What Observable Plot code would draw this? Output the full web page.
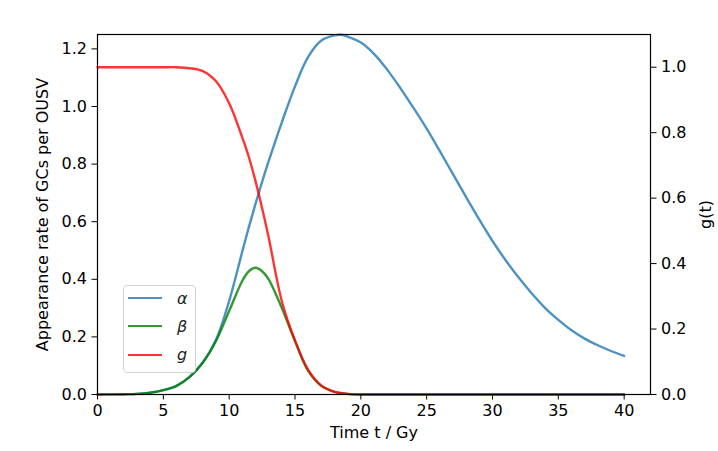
<!DOCTYPE html>
<html>
<head>
<meta charset="utf-8">
<script src="https://cdn.jsdelivr.net/npm/d3@7"></script>
<script src="https://cdn.jsdelivr.net/npm/@observablehq/plot@0.6"></script>
<style>
  html, body { margin: 0; padding: 0; background: white; }
  #wrap { position: relative; width: 718px; height: 451px; }
  #legend { position: absolute; left: 123px; top: 285px; width: 73px; height: 88px;
    border: 1px solid #d3d3d3; border-radius: 4px; background: rgba(255,255,255,0.8); box-sizing: border-box; }
  .row { position: absolute; left: 4px; height: 20px; display: flex; align-items: center; }
  .sw { width: 34px; height: 0; border-top: 2.5px solid; margin-right: 15px; }
  .lab { font-family: "DejaVu Sans"; font-style: italic; font-size: 16px; color: #222; }
</style>
</head>
<body>
<div id="wrap"></div>
<script>
// time axis (Gy)
const t = [0,1,2,3,4,5,6,7,8,9,10,11,11.5,12,12.5,13,14,15,16,17,18,18.5,19,20,21,22,23,24,25,26,27,28,29,30,31,32,33,34,35,36,37,38,39,40];
// alpha (left axis)
const alpha = [0,0.0005,0.001,0.002,0.006,0.015,0.03,0.061,0.111,0.19,0.325,0.497,0.582,0.662,0.738,0.81,0.945,1.07,1.172,1.229,1.247,1.249,1.243,1.222,1.183,1.128,1.064,0.995,0.923,0.845,0.765,0.685,0.607,0.533,0.466,0.405,0.35,0.30,0.259,0.223,0.194,0.171,0.151,0.134];
// beta (left axis)
const beta = [0,0.0005,0.001,0.002,0.006,0.015,0.03,0.061,0.111,0.186,0.29,0.395,0.428,0.44,0.428,0.40,0.30,0.186,0.082,0.03,0.009,0.005,0.002,0,0,0,0,0,0,0,0,0,0,0,0,0,0,0,0,0,0,0,0,0];
// g(t) (right axis)
const g = [1,1,1,1,1,1,1,0.997,0.988,0.957,0.89,0.785,0.725,0.652,0.57,0.48,0.285,0.165,0.075,0.027,0.008,0.004,0.002,0,0,0,0,0,0,0,0,0,0,0,0,0,0,0,0,0,0,0,0,0];

const xTicks = [0,5,10,15,20,25,30,35,40];
const yLeftTicks = [0,0.2,0.4,0.6,0.8,1.0,1.2];
const yRightTicks = [0,0.2,0.4,0.6,0.8,1.0];
const xDomain = [0, 42];
const yLeftDomain = [0, 1.25];
const yRightDomain = [0, 1.1];

const series = [
  {name: "α", values: alpha, color: "#1f77b4"},
  {name: "β", values: beta, color: "#008000"},
  {name: "g", values: g, color: "#ff0000"}
];

const k = yLeftDomain[1] / yRightDomain[1];
const idx = d3.range(t.length);
const lineOpts = {strokeWidth: 2.4, strokeOpacity: 0.8, curve: "catmull-rom"};

const chart = Plot.plot({
  width: 718, height: 451,
  marginLeft: 97, marginRight: 68, marginTop: 34, marginBottom: 57,
  style: {fontFamily: "DejaVu Sans", fontSize: "16px", color: "black", background: "white"},
  x: {domain: xDomain},
  y: {domain: yLeftDomain},
  marks: [
    Plot.line(idx, {x: i => t[i], y: i => alpha[i], stroke: series[0].color, ...lineOpts}),
    Plot.line(idx, {x: i => t[i], y: i => beta[i], stroke: series[1].color, ...lineOpts}),
    Plot.line(idx, {x: i => t[i], y: i => g[i] * k, stroke: series[2].color, ...lineOpts}),
    Plot.frame({stroke: "black", strokeWidth: 1.2}),
    Plot.axisX({ticks: xTicks, tickSize: 5.5, tickPadding: 5, tickFormat: d => String(d), label: null, fontSize: 16}),
    Plot.axisY({ticks: yLeftTicks, tickSize: 5.5, tickPadding: 5, tickFormat: d => d.toFixed(1), label: null, fontSize: 16}),
    Plot.axisY({anchor: "right", ticks: yRightTicks.map(v => v * k), tickSize: 5.5, tickPadding: 5, tickFormat: d => (d / k).toFixed(1), label: null, fontSize: 16}),
    Plot.text(["Time t / Gy"], {frameAnchor: "bottom", dy: 43, textAnchor: "middle", fontSize: 16}),
    Plot.text(["Appearance rate of GCs per OUSV"], {frameAnchor: "left", dx: -55, rotate: -90, textAnchor: "middle", fontSize: 16}),
    Plot.text(["g(t)"], {frameAnchor: "right", dx: 55, rotate: -90, textAnchor: "middle", fontSize: 16})
  ]
});

const wrap = document.getElementById("wrap");
wrap.appendChild(chart);

const legend = d3.select(wrap).append("div").attr("id", "legend");
series.forEach((s, i) => {
  const row = legend.append("div").attr("class", "row").style("top", (2 + i * 28.3) + "px");
  row.append("div").attr("class", "sw").style("border-color", s.color).style("opacity", 0.8);
  row.append("span").attr("class", "lab").text(s.name);
});
</script>
</body>
</html>
